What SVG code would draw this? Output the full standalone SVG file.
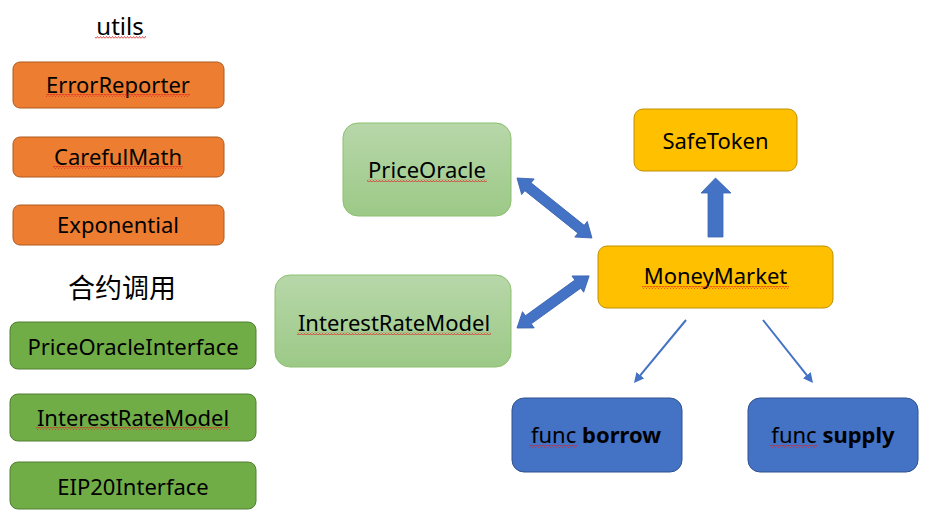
<svg xmlns="http://www.w3.org/2000/svg" width="942" height="531" viewBox="0 0 942 531">
<style>
text{font-family:"Noto Sans","Noto Sans CJK SC",sans-serif;font-size:22px;fill:#000;text-anchor:middle}
.orange{fill:#ED7D31;stroke:#AE5A21;stroke-width:1}
.green{fill:#70AD47;stroke:#507E32;stroke-width:1}
.lgreen{fill:url(#lg);stroke:#8CC06E;stroke-width:1}
.gold{fill:#FFC000;stroke:#BF9000;stroke-width:1}
.blue{fill:#4472C4;stroke:#2F528F;stroke-width:1}
.barrow{fill:#4472C4;stroke:#3A64B0;stroke-width:0.8}
.thin{stroke:#4472C4;stroke-width:2;fill:none;marker-end:url(#ah)}
.wavy{fill:url(#wv)}
.title{font-size:24px}
.cjk{font-family:"Noto Sans CJK SC",sans-serif;font-size:27px}
</style>
<defs>
<linearGradient id="lg" x1="0" y1="0" x2="0" y2="1">
<stop offset="0" stop-color="#B7D7A9"/>
<stop offset="1" stop-color="#9CC987"/>
</linearGradient>
<pattern id="wv" width="3" height="3" patternUnits="userSpaceOnUse">
<polyline points="0,2.5 1.5,0.5 3,2.5" fill="none" stroke="#E02020" stroke-width="0.8"/>
</pattern>
<marker id="ah" viewBox="0 0 10 10" markerUnits="userSpaceOnUse" markerWidth="10" markerHeight="10" refX="6" refY="5" orient="auto">
<path d="M0,0 L10,5 L0,10 z" fill="#4472C4"/>
</marker>
</defs>

<g id="utils-title">
<text class="title" x="120" y="35">utils</text>
<rect class="wavy" x="95" y="36" width="51" height="3"/>
</g>
<g id="ErrorReporter">
<rect class="orange" x="13" y="62" width="211" height="46" rx="7"/>
<text x="118" y="93">ErrorReporter</text>
<rect class="wavy" x="46" y="94" width="144" height="3"/>
</g>
<g id="CarefulMath">
<rect class="orange" x="13" y="137" width="211" height="40" rx="7"/>
<text x="118" y="165">CarefulMath</text>
<rect class="wavy" x="53" y="166" width="130" height="3"/>
</g>
<g id="Exponential">
<rect class="orange" x="13" y="205" width="211" height="40" rx="7"/>
<text x="118" y="233">Exponential</text>
</g>

<g id="contract-title">
<text class="cjk" x="122" y="298">合约调用</text>
</g>
<g id="PriceOracleInterface">
<rect class="green" x="10" y="322" width="246" height="47" rx="8"/>
<text x="133" y="355">PriceOracleInterface</text>
</g>
<g id="InterestRateModel-left">
<rect class="green" x="10" y="394" width="246" height="47" rx="8"/>
<text x="133" y="426">InterestRateModel</text>
<rect class="wavy" x="36" y="427" width="194" height="3"/>
</g>
<g id="EIP20Interface">
<rect class="green" x="10" y="462" width="246" height="47" rx="8"/>
<text x="133" y="495">EIP20Interface</text>
</g>

<g id="PriceOracle">
<rect class="lgreen" x="343" y="123" width="168" height="93" rx="15"/>
<text x="427" y="178">PriceOracle</text>
<rect class="wavy" x="367" y="179" width="120" height="3"/>
</g>
<g id="InterestRateModel">
<rect class="lgreen" x="275" y="275" width="236" height="92" rx="15"/>
<text x="394" y="331">InterestRateModel</text>
<rect class="wavy" x="297" y="332" width="194" height="3"/>
</g>

<g id="SafeToken">
<rect class="gold" x="634" y="109" width="163" height="62" rx="9"/>
<text x="715.5" y="149">SafeToken</text>
</g>
<g id="MoneyMarket">
<rect class="gold" x="598" y="246" width="235" height="62" rx="9"/>
<text x="715.5" y="284">MoneyMarket</text>
<rect class="wavy" x="642" y="286" width="147" height="3"/>
</g>
<g id="func-borrow">
<rect class="blue" x="512" y="398" width="170" height="74" rx="12"/>
<text x="596" y="443">func <tspan font-weight="bold">borrow</tspan></text>
<rect class="wavy" x="529" y="445" width="48" height="3"/>
</g>
<g id="func-supply">
<rect class="blue" x="748" y="398" width="170" height="74" rx="12"/>
<text x="833" y="443">func <tspan font-weight="bold">supply</tspan></text>
<rect class="wavy" x="770" y="445" width="47" height="3"/>
</g>

<g id="connectors">
<path class="barrow" transform="translate(517,178) rotate(38.66)" d="M0,0 L14,-10 L14,-5 L82,-5 L82,-10 L96,0 L82,10 L82,5 L14,5 L14,10 Z"/>
<path class="barrow" transform="translate(517,328) rotate(-35.84)" d="M0,0 L14,-10 L14,-5 L75,-5 L75,-10 L89,0 L75,10 L75,5 L14,5 L14,10 Z"/>
<polygon class="barrow" points="708,237 708,193 701,193 715.5,178 731,193 723,193 723,237"/>
<line class="thin" x1="686" y1="320" x2="636.5" y2="379.9"/>
<line class="thin" x1="763" y1="320" x2="810.5" y2="379.9"/>
</g>
</svg>
